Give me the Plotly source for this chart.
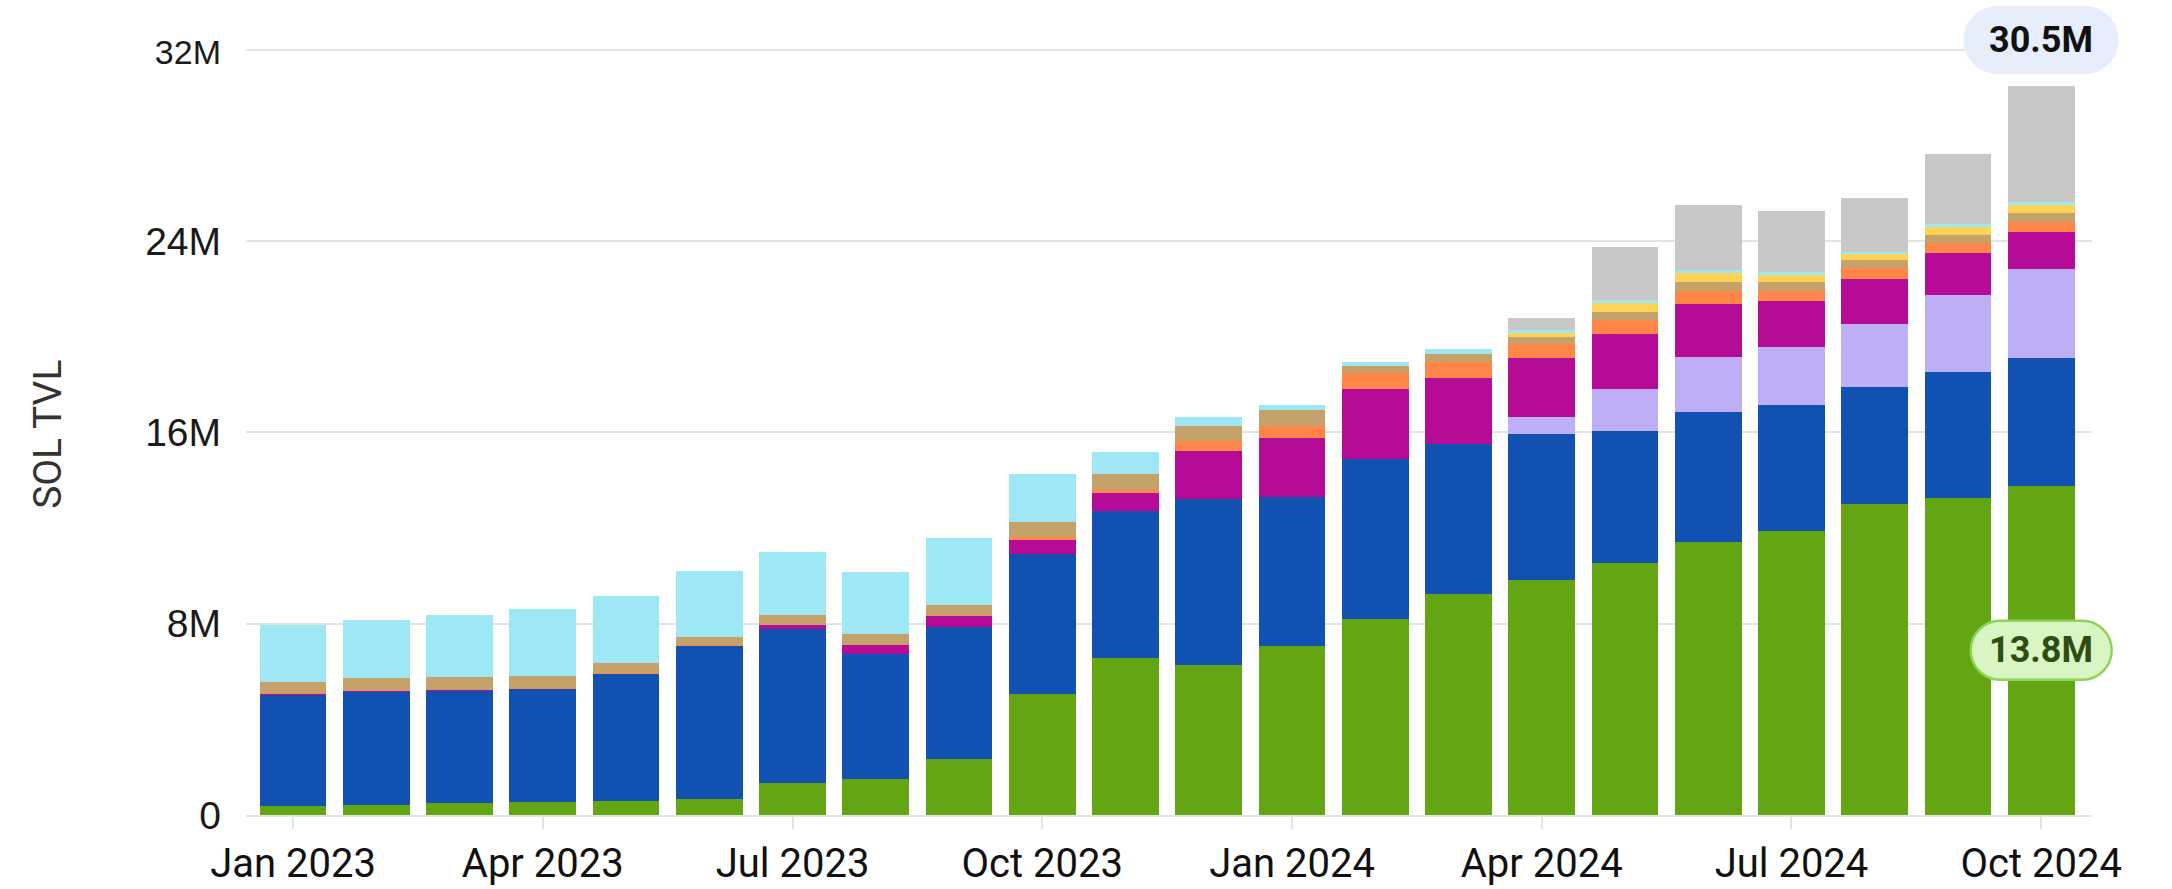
import plotly.graph_objects as go

# ---------------- data (values in millions of SOL) ----------------
months = ["Jan 2023", "Feb 2023", "Mar 2023", "Apr 2023", "May 2023", "Jun 2023",
          "Jul 2023", "Aug 2023", "Sep 2023", "Oct 2023", "Nov 2023", "Dec 2023",
          "Jan 2024", "Feb 2024", "Mar 2024", "Apr 2024", "May 2024", "Jun 2024",
          "Jul 2024", "Aug 2024", "Sep 2024", "Oct 2024"]

green = [0.39, 0.43, 0.50, 0.53, 0.60, 0.67, 1.32, 1.52, 2.35, 5.05, 6.57, 6.28,
         7.07, 8.19, 9.24, 9.83, 10.56, 11.43, 11.88, 12.99, 13.27, 13.78]
blue = [4.66, 4.73, 4.70, 4.76, 5.32, 6.42, 6.45, 5.20, 5.52, 5.87, 6.16, 6.92,
        6.25, 6.70, 6.26, 6.11, 5.50, 5.44, 5.27, 4.92, 5.24, 5.32]
lavender = [0, 0, 0, 0, 0, 0, 0, 0, 0, 0, 0, 0,
            0, 0, 0, 0.69, 1.76, 2.30, 2.43, 2.63, 3.24, 3.74]
magenta = [0.02, 0.02, 0.02, 0, 0, 0, 0.18, 0.39, 0.45, 0.60, 0.72, 2.03,
           2.46, 2.93, 2.76, 2.47, 2.30, 2.19, 1.93, 1.89, 1.77, 1.56]
orange = [0.02, 0, 0, 0.02, 0.02, 0.02, 0, 0, 0, 0.09, 0.14, 0.43,
          0.49, 0.66, 0.69, 0.60, 0.59, 0.57, 0.41, 0.44, 0.42, 0.39]
tan = [0.48, 0.53, 0.56, 0.52, 0.43, 0.35, 0.42, 0.46, 0.46, 0.63, 0.66, 0.63,
       0.67, 0.31, 0.33, 0.31, 0.34, 0.35, 0.36, 0.35, 0.32, 0.41]
yellow = [0, 0, 0, 0, 0, 0, 0, 0, 0, 0, 0, 0,
          0, 0, 0, 0.17, 0.35, 0.38, 0.31, 0.25, 0.35, 0.32]
cyan = [2.38, 2.43, 2.60, 2.77, 2.79, 2.75, 2.64, 2.58, 2.82, 2.03, 0.92, 0.34,
        0.23, 0.16, 0.21, 0.11, 0.14, 0.14, 0.13, 0.09, 0.11, 0.11]
gray = [0, 0, 0, 0, 0, 0, 0, 0, 0, 0, 0, 0,
        0, 0, 0, 0.49, 2.23, 2.72, 2.55, 2.23, 2.91, 4.87]

tick_idx = [0, 3, 6, 9, 12, 15, 18, 21]
y_ticks = [0, 8, 16, 24, 32]
y_ticktext = ["0", "8M", "16M", "24M", '<span style="font-size:34px">32M</span>']

series = [
    ("Series 1", green, "#63A513"),
    ("Series 2", blue, "#1151B1"),
    ("Series 3", lavender, "#BEAEF5"),
    ("Series 4", magenta, "#B60B96"),
    ("Series 5", orange, "#FF8648"),
    ("Series 6", tan, "#C4A26A"),
    ("Series 7", yellow, "#FDD255"),
    ("Series 8", cyan, "#9EE8F5"),
    ("Series 9", gray, "#C8C8C8"),
]

x = list(range(len(months)))
XR = [-0.565, 21.61]
YR = [0, 34.09]

fig = go.Figure()
for name, vals, col in series:
    fig.add_trace(go.Bar(x=x, y=vals, name=name, marker_color=col,
                         marker_line_width=0, showlegend=False, hoverinfo="skip"))

totals = [sum(v) for v in zip(*[s[1] for s in series])]
last = len(months) - 1


def pill(w, h):
    r = h / 2.0
    c = w / 2.0 - r
    k = 0.5523 * r
    return (f"M {-c},{-r} L {c},{-r} "
            f"C {c + k},{-r} {c + r},{-k} {c + r},0 "
            f"C {c + r},{k} {c + k},{r} {c},{r} "
            f"L {-c},{r} "
            f"C {-c - k},{r} {-c - r},{k} {-c - r},0 "
            f"C {-c - r},{-k} {-c - k},{-r} {-c},{-r} Z")


def px(xv):
    return (xv - XR[0]) / (XR[1] - XR[0])


def py(yv):
    return (yv - YR[0]) / (YR[1] - YR[0])


top_label_y = 32.42
green_label_y = green[last] / 2.0

fig.add_shape(type="path", xref="paper", yref="paper", xsizemode="pixel", ysizemode="pixel",
              xanchor=px(last), yanchor=py(top_label_y), path=pill(155, 68),
              fillcolor="#E6EEFB", line=dict(width=0), layer="above")
fig.add_shape(type="path", xref="paper", yref="paper", xsizemode="pixel", ysizemode="pixel",
              xanchor=px(last), yanchor=py(green_label_y), path=pill(141, 59),
              fillcolor="#D9F5C3", line=dict(width=2.5, color="#8DD457"), layer="above")

fig.add_annotation(x=last, y=top_label_y, xref="x", yref="y", showarrow=False,
                   text=f"<b>{totals[last]:.1f}M</b>",
                   font=dict(family="Roboto, sans-serif", size=36, color="#111111"))
fig.add_annotation(x=last, y=green_label_y, xref="x", yref="y", showarrow=False,
                   text=f"<b>{green[last]:.1f}M</b>",
                   font=dict(family="Roboto, sans-serif", size=36, color="#2E4D12"))

fig.add_annotation(x=(48 - 246) / 1846.0, y=py(15.9), xref="paper", yref="paper",
                   xanchor="center", yanchor="middle",
                   showarrow=False, text="SOL TVL", textangle=-90,
                   font=dict(family="Roboto, sans-serif", size=39, color="#333333"))

fig.update_layout(
    width=2172, height=889,
    margin=dict(l=246, r=80, t=0, b=74),
    barmode="stack", bargap=0.2,
    plot_bgcolor="white", paper_bgcolor="white",
    hovermode=False,
    xaxis=dict(range=XR, tickmode="array", tickvals=tick_idx,
               ticktext=[months[i] for i in tick_idx], automargin=False,
               showgrid=False, zeroline=False, showline=True, linecolor="#E3E3E3", linewidth=2,
               ticks="outside", ticklen=12, tickwidth=2, tickcolor="#E3E3E3",
               ticklabelstandoff=0,
               tickfont=dict(family="Roboto, sans-serif", size=40, color="#111111")),
    yaxis=dict(range=YR, tickmode="array", tickvals=y_ticks, ticktext=y_ticktext,
               automargin=False,
               showgrid=True, gridcolor="#E3E3E3", gridwidth=2, zeroline=False,
               showline=False, ticks="", ticklabelstandoff=24,
               tickfont=dict(family="Liberation Sans, Arial, sans-serif", size=39, color="#1A1A1A")),
)

fig.write_html("out.html", config={"displayModeBar": False})
